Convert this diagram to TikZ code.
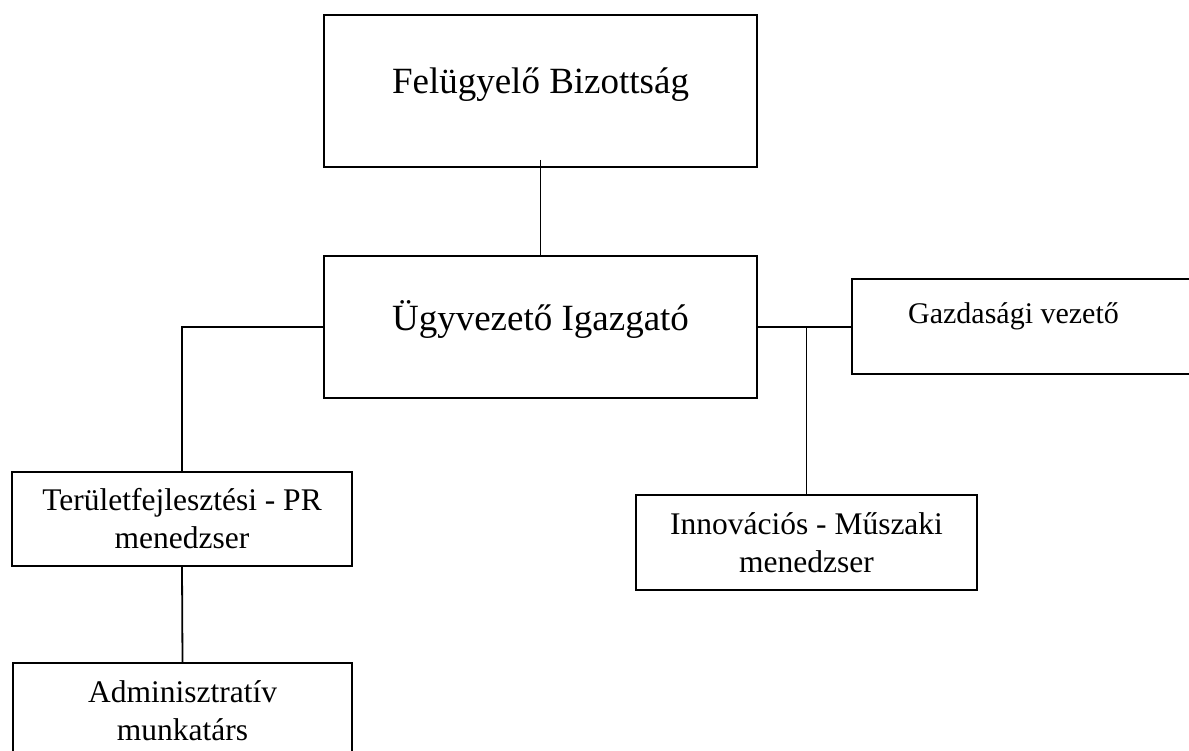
\documentclass[tikz,border=0pt]{standalone}
\usepackage{fontspec}
\setmainfont{Liberation Serif}
\newcommand{\nagybetu}{\fontsize{37}{43}\selectfont}
\newcommand{\kisbetu}{\fontsize{31.5}{38}\selectfont}
\tikzset{
	doboz/.style={draw,rectangle,line width=2pt,inner sep=0pt,align=center,anchor=north west},
	vonal/.style={line width=1.8pt},
}
\begin{document}
\begin{tikzpicture}[x=1pt,y=-1pt]
			\useasboundingbox (0,0) rectangle (1189,751);
			\node[doboz,minimum width=433,minimum height=152,font=\nagybetu,text height=0.7em,text depth=0.27em] (fb) at (323,14){Felügyelő Bizottság};
			\node[doboz,minimum width=433,minimum height=142,font=\nagybetu,text height=0.9em,text depth=0.2em] (ui) at (323,255){Ügyvezető Igazgató};
			\node[doboz,minimum width=345,font=\fontsize{30}{36}\selectfont,text height=45,text depth=50] (gv) at (851,278){Gazdasági vezető\hspace*{22pt}};
			\node[doboz,minimum width=340,minimum height=94,font=\kisbetu] (tf) at (11,471){Területfejlesztési - PR\\menedzser};
			\node[doboz,minimum width=341,minimum height=95,font=\kisbetu] (im) at (635,494){Innovációs - Műszaki\\menedzser};
			\node[doboz,minimum width=339,minimum height=95,font=\kisbetu] (am) at (12,662){Adminisztratív\\munkatárs};
			\draw ([yshift=8]fb.south) edge [vonal] (ui.north);
			\draw[vonal] (ui.west) -| (tf.north);
			\draw (tf.south) edge [vonal] (am.north);
			\draw[vonal] (ui.east) -- (ui.east -| gv.west);
			\draw[vonal] (ui.east -| im.north) -- (im.north);
		\end{tikzpicture}
\end{document}
